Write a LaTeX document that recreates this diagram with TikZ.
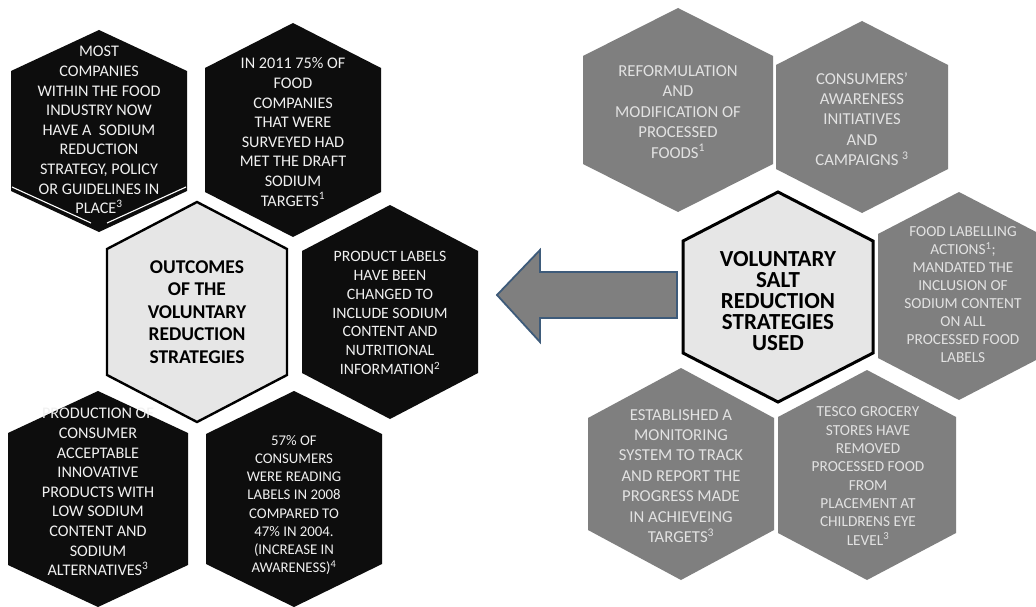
\documentclass[tikz,border=0pt]{standalone}
\usepackage{fontspec}
\setmainfont{Carlito}
\definecolor{hexblack}{HTML}{0D0D0D}
\definecolor{hexgrey}{HTML}{7F7F7F}
\definecolor{hexlight}{HTML}{E6E6E6}
\definecolor{textlight}{HTML}{F0F0F0}
\definecolor{textgrey}{HTML}{E2E2E2}
\definecolor{arrowedge}{HTML}{3E5B7A}
% hexagon with flat vertical sides: centre, half width, half height, half side
\newcommand{\hexcell}[5]{%
  \path[#5, shift={(#1)}] (0,-#3) -- (#2,-#4) -- (#2,#4) -- (0,#3)
    -- (-#2,#4) -- (-#2,-#4) -- cycle;}
\begin{document}
\begin{tikzpicture}[x=1pt, y=-1pt,
  darkcell/.style={fill=hexblack},
  greycell/.style={fill=hexgrey},
  hubcell/.style={fill=hexlight, draw=black, line width=2.4pt, line join=miter},
  darktext/.style={align=center, inner sep=0pt, text=textlight,
    font=\fontsize{16.2}{19.6}\selectfont},
  greytext/.style={align=center, inner sep=0pt, text=textgrey,
    font=\fontsize{16.7}{20.4}\selectfont},
  hubtext/.style={align=center, inner sep=0pt, text=black,
    font=\bfseries\fontsize{19.5}{22.5}\selectfont}]
\useasboundingbox (0,0) rectangle (1036,607);
\fill[white] (0,0) rectangle (1036,607);

% ---- outcomes cluster ----
\coordinate (cMost) at (99,131);
\coordinate (cSurvey) at (293,130);
\coordinate (cOutcomes) at (197,312);
\coordinate (cLabels) at (390,312);
\coordinate (cProducts) at (98,499);
\coordinate (cReaders) at (294,499);

\hexcell{cMost}{88}{101}{60}{darkcell}
\draw[white, line width=1.1pt, shift={(cMost)}] (-87,56) -- (-8,92) (8,92) -- (87,56);
\hexcell{cSurvey}{88}{107}{62}{darkcell}
\hexcell{cOutcomes}{90}{110}{63}{hubcell}
\hexcell{cLabels}{88}{107}{61}{darkcell}
\hexcell{cProducts}{90}{108}{66}{darkcell}
\hexcell{cReaders}{88}{108}{65}{darkcell}

\node[darktext] (tMost) at (99,130) {MOST\\COMPANIES\\WITHIN THE FOOD\\INDUSTRY NOW\\HAVE A~ SODIUM\\REDUCTION\\STRATEGY, POLICY\\OR GUIDELINES IN\\PLACE\textsuperscript{3}};
\node[darktext] (tSurvey) at (293,132) {IN 2011 75\% OF\\FOOD\\COMPANIES\\THAT WERE\\SURVEYED HAD\\MET THE DRAFT\\SODIUM\\TARGETS\textsuperscript{1}};
\node[hubtext] (tOutcomes) at (197,312) {OUTCOMES\\OF THE\\VOLUNTARY\\REDUCTION\\STRATEGIES};
\node[darktext, font=\fontsize{15.8}{18.8}\selectfont] (tLabels) at (390,313) {PRODUCT LABELS\\HAVE BEEN\\CHANGED TO\\INCLUDE SODIUM\\CONTENT AND\\NUTRITIONAL\\INFORMATION\textsuperscript{2}};
\node[darktext] (tProducts) at (98,492) {PRODUCTION OF\\CONSUMER\\ACCEPTABLE\\INNOVATIVE\\PRODUCTS WITH\\LOW SODIUM\\CONTENT AND\\SODIUM\\ALTERNATIVES\textsuperscript{3}};
\node[darktext, font=\fontsize{14.8}{18.2}\selectfont] (tReaders) at (294,505) {57\% OF\\CONSUMERS\\WERE READING\\LABELS IN 2008\\COMPARED TO\\47\% IN 2004.\\(INCREASE IN\\AWARENESS)\textsuperscript{4}};

% ---- strategies cluster ----
\coordinate (cReform) at (678,110);
\coordinate (cAware) at (862,117);
\coordinate (cSalt) at (778,297);
\coordinate (cFoodLab) at (959,296);
\coordinate (cMonitor) at (681,474);
\coordinate (cTesco) at (867,475);

\hexcell{cReform}{95}{102}{54}{greycell}
\hexcell{cAware}{86}{96}{52}{greycell}
\hexcell{cFoodLab}{81}{104}{62}{greycell}
\hexcell{cMonitor}{93}{106}{56}{greycell}
\hexcell{cTesco}{89}{105}{58}{greycell}
\hexcell{cSalt}{95}{105}{56}{hubcell, line width=3pt}

\node[greytext] (tReform) at (678,112) {REFORMULATION\\AND\\MODIFICATION OF\\PROCESSED\\FOODS\textsuperscript{1}};
\node[greytext] (tAware) at (862,119) {CONSUMERS'\\AWARENESS\\INITIATIVES\\AND\\CAMPAIGNS \textsuperscript{3}};
\node[hubtext, font=\bfseries\fontsize{23}{20.8}\selectfont] (tSalt) at (778,301) {VOLUNTARY\\SALT\\REDUCTION\\STRATEGIES\\USED};
\node[greytext, font=\fontsize{15.3}{18}\selectfont] (tFoodLab) at (963,295) {FOOD LABELLING\\ACTIONS\textsuperscript{1};\\MANDATED THE\\INCLUSION OF\\SODIUM CONTENT\\ON ALL\\PROCESSED FOOD\\LABELS};
\node[greytext] (tMonitor) at (681,476) {ESTABLISHED A\\MONITORING\\SYSTEM TO TRACK\\AND REPORT THE\\PROGRESS MADE\\IN ACHIEVEING\\TARGETS\textsuperscript{3}};
\node[greytext, font=\fontsize{15.3}{18.3}\selectfont] (tTesco) at (868,476) {TESCO GROCERY\\STORES HAVE\\REMOVED\\PROCESSED FOOD\\FROM\\PLACEMENT AT\\CHILDRENS EYE\\LEVEL\textsuperscript{3}};

% ---- block arrow from the strategies to the outcomes ----
\filldraw[fill=hexgrey, draw=arrowedge, line width=1.8pt, line join=miter]
  (677,272) -- (540,272) -- (540,250) -- (497,295) -- (540,342)
  -- (540,318) -- (677,318) -- cycle;
\end{tikzpicture}
\end{document}
